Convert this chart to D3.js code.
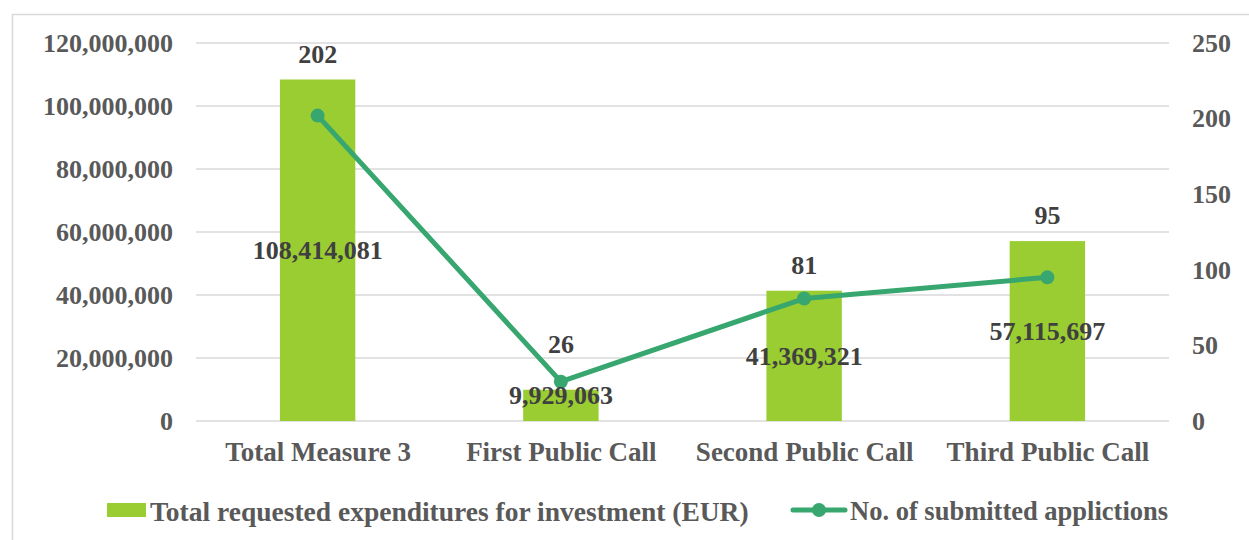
<!DOCTYPE html>
<html>
<head>
<meta charset="utf-8">
<script src="https://cdn.jsdelivr.net/npm/d3@7"></script>
<style>
    html, body { margin: 0; padding: 0; background: #fff; }
    svg text { font-family: "Times New Roman", "Liberation Serif", serif; font-weight: bold; }
</style>
</head>
<body>
<svg id="chart" width="1249" height="540"></svg>
<script>
(function() {
    'use strict';

    var categories = ['Total Measure 3', 'First Public Call', 'Second Public Call', 'Third Public Call'];
    var expenditures = [108414081, 9929063, 41369321, 57115697];
    var applications = [202, 26, 81, 95];
    var leftTicks = [0, 20000000, 40000000, 60000000, 80000000, 100000000, 120000000];
    var rightTicks = [0, 50, 100, 150, 200, 250];
    var seriesNames = ['Total requested expenditures for investment (EUR)', 'No. of submitted applictions'];

    var barColor = '#9ACD32';
    var lineColor = '#37A76F';
    var gridColor = '#d9d9d9';
    var axisText = '#595959';
    var labelText = '#404040';

    var svg = d3.select('#chart');
    var margin = { left: 196, right: 80, top: 43, bottom: 119 };
    var width = 1249, height = 540;

    // outer chart border
    svg.append('rect')
        .attr('x', 12.5).attr('y', 14.5)
        .attr('width', 1260).attr('height', 560)
        .attr('fill', 'none')
        .attr('stroke', gridColor)
        .attr('stroke-width', 1.5);

    var x = d3.scaleBand()
        .domain(categories)
        .range([margin.left, width - margin.right])
        .paddingInner(0.69)
        .paddingOuter(0.345);

    var xCenter = d3.scalePoint()
        .domain(categories)
        .range([margin.left, width - margin.right])
        .padding(0.5);

    var yLeft = d3.scaleLinear()
        .domain([0, 120000000])
        .range([height - margin.bottom, margin.top]);

    var yRight = d3.scaleLinear()
        .domain([0, 250])
        .range([height - margin.bottom, margin.top]);

    // gridlines
    svg.append('g')
        .selectAll('line')
        .data(leftTicks)
        .enter().append('line')
        .attr('x1', margin.left)
        .attr('x2', width - margin.right)
        .attr('y1', function(d) { return yLeft(d); })
        .attr('y2', function(d) { return yLeft(d); })
        .attr('stroke', gridColor)
        .attr('stroke-width', 1.5);

    var fmt = d3.format(',');

    var leftAxis = svg.append('g')
        .attr('transform', 'translate(' + (margin.left - 23) + ',0)')
        .call(d3.axisLeft(yLeft).tickValues(leftTicks).tickFormat(fmt).tickSize(0).tickPadding(0));
    leftAxis.select('.domain').remove();
    leftAxis.selectAll('text')
        .attr('fill', axisText)
        .style('font-size', '26px');

    var rightAxis = svg.append('g')
        .attr('transform', 'translate(' + (width - margin.right + 23) + ',0)')
        .call(d3.axisRight(yRight).tickValues(rightTicks).tickSize(0).tickPadding(0));
    rightAxis.select('.domain').remove();
    rightAxis.selectAll('text')
        .attr('fill', axisText)
        .style('font-size', '26px');

    var bottomAxis = svg.append('g')
        .attr('transform', 'translate(0,' + (height - margin.bottom) + ')')
        .call(d3.axisBottom(xCenter).tickSize(0).tickPadding(21));
    bottomAxis.select('.domain').remove();
    bottomAxis.selectAll('text')
        .attr('fill', axisText)
        .style('font-size', '27px');

    // bars
    svg.append('g')
        .selectAll('rect')
        .data(expenditures)
        .enter().append('rect')
        .attr('x', function(d, i) { return x(categories[i]); })
        .attr('width', x.bandwidth())
        .attr('y', function(d) { return yLeft(d); })
        .attr('height', function(d) { return yLeft(0) - yLeft(d); })
        .attr('fill', barColor);

    // line
    var line = d3.line()
        .x(function(d, i) { return xCenter(categories[i]); })
        .y(function(d) { return yRight(d); });

    svg.append('path')
        .datum(applications)
        .attr('d', line)
        .attr('fill', 'none')
        .attr('stroke', lineColor)
        .attr('stroke-width', 5)
        .attr('stroke-linejoin', 'round');

    svg.append('g')
        .selectAll('circle')
        .data(applications)
        .enter().append('circle')
        .attr('cx', function(d, i) { return xCenter(categories[i]); })
        .attr('cy', function(d) { return yRight(d); })
        .attr('r', 7)
        .attr('fill', lineColor);

    // bar labels (centre of bar, kept off the axis)
    svg.append('g')
        .selectAll('text')
        .data(expenditures)
        .enter().append('text')
        .attr('x', function(d, i) { return xCenter(categories[i]); })
        .attr('y', function(d) { return Math.min((yLeft(d) + yLeft(0)) / 2, yLeft(0) - 26); })
        .attr('dy', '0.35em')
        .attr('text-anchor', 'middle')
        .attr('fill', labelText)
        .style('font-size', '26px')
        .text(function(d) { return fmt(d); });

    // line labels (above the higher of bar top and marker)
    svg.append('g')
        .selectAll('text')
        .data(applications)
        .enter().append('text')
        .attr('x', function(d, i) { return xCenter(categories[i]); })
        .attr('y', function(d, i) {
            var top = Math.min(yLeft(expenditures[i]), yRight(d));
            return top - (yRight(d) < yLeft(expenditures[i]) ? 38 : 26);
        })
        .attr('dy', '0.35em')
        .attr('text-anchor', 'middle')
        .attr('fill', labelText)
        .style('font-size', '26px')
        .text(function(d) { return d; });

    // legend
    var legend = svg.append('g');
    legend.append('rect')
        .attr('x', 107).attr('y', 503)
        .attr('width', 39).attr('height', 14)
        .attr('fill', barColor);
    legend.append('text')
        .attr('x', 150).attr('y', 511)
        .attr('dy', '0.35em')
        .attr('fill', axisText)
        .style('font-size', '27.5px')
        .text(seriesNames[0]);

    legend.append('line')
        .attr('x1', 793).attr('x2', 845)
        .attr('y1', 510).attr('y2', 510)
        .attr('stroke', lineColor)
        .attr('stroke-width', 5)
        .attr('stroke-linecap', 'round');
    legend.append('circle')
        .attr('cx', 819).attr('cy', 510)
        .attr('r', 7)
        .attr('fill', lineColor);
    legend.append('text')
        .attr('x', 850).attr('y', 511)
        .attr('dy', '0.35em')
        .attr('fill', axisText)
        .style('font-size', '26.5px')
        .text(seriesNames[1]);
}());
</script>
</body>
</html>
